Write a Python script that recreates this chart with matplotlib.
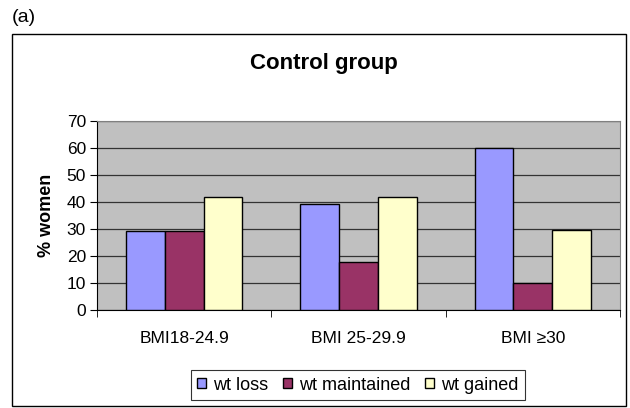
import numpy as np
import matplotlib.pyplot as plt
from matplotlib.patches import Rectangle

# data
groups = ['BMI18-24.9', 'BMI 25-29.9', 'BMI \u226530']
series = ['wt loss', 'wt maintained', 'wt gained']
wt_loss = [29.4, 39.1, 60.0]
wt_maintained = [29.4, 17.7, 9.9]
wt_gained = [41.7, 41.7, 29.7]
colors = ['#9999FF', '#993366', '#FFFFCC']

plt.rcParams['font.family'] = ['Liberation Sans', 'DejaVu Sans']

fig = plt.figure(figsize=(6.3, 4.08), dpi=100)
W, H = 630, 408

# outer chart border
fig.patches.append(Rectangle((12 / W, 2 / H), 614 / W, (H - 34 - 2) / H,
                             transform=fig.transFigure, fill=False,
                             edgecolor='black', linewidth=1.0))
fig.text(12 / W, 1 - 18 / H, '(a)', fontsize=14, va='center', ha='left')

ax = fig.add_axes([97 / W, 1 - 310 / H, 523 / W, 189 / H])
ax.set_facecolor('#C0C0C0')

x = np.arange(len(groups))
bw = 1 / 4.5
for i, (vals, c) in enumerate(zip([wt_loss, wt_maintained, wt_gained], colors)):
    ax.bar(x + (i - 1) * bw, vals, width=bw, color=c, edgecolor='black',
           linewidth=1.0, label=series[i], zorder=3)

ax.set_xlim(-0.5, 2.5)
ax.set_ylim(0, 70)
ax.set_yticks(range(0, 71, 10))
ax.yaxis.grid(True, color='#333333', linewidth=0.9, zorder=0)
ax.set_axisbelow(True)
ax.set_xticks(x)
ax.set_xticklabels(groups, fontsize=12.5)
ax.set_xticks([-0.5, 0.5, 1.5, 2.5], minor=True)
ax.tick_params(axis='x', which='major', length=0, pad=15)
ax.tick_params(axis='x', which='minor', length=5, direction='out', color='black')
ax.tick_params(axis='y', labelsize=12.5, length=5, direction='out', pad=3)
for s in ['top', 'right']:
    ax.spines[s].set_color('#808080')
ax.spines['left'].set_color('black')
ax.spines['bottom'].set_color('black')

ax.set_ylabel('% women', fontsize=13, fontweight='bold', labelpad=8)
fig.text(324 / W, 1 - 63 / H, 'Control group', fontsize=16, fontweight='bold',
         ha='center', va='center')

leg = fig.legend(loc='center', bbox_to_anchor=(358 / W, 1 - 385 / H), ncol=3,
                 fontsize=13, frameon=True, fancybox=False, edgecolor='black',
                 handlelength=0.5, handleheight=0.5, handletextpad=0.4,
                 columnspacing=0.8, borderpad=0.35, borderaxespad=0)
leg.get_frame().set_linewidth(0.8)

fig.savefig('out.png', dpi=100)
